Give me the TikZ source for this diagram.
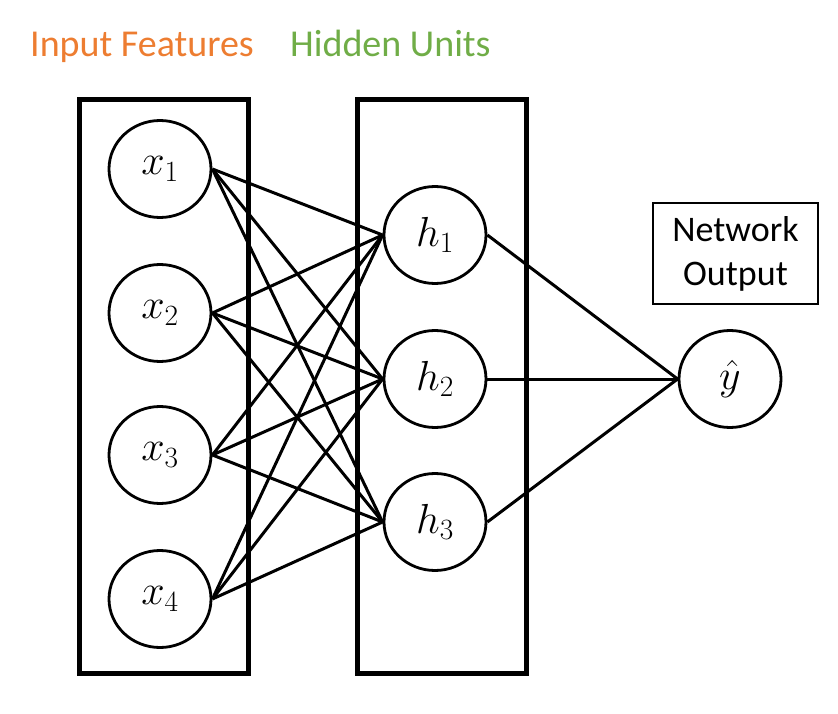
\documentclass[tikz,border=0pt]{standalone}
\usepackage{fix-cm}
\usepackage{fontspec}
\setsansfont{Carlito}
\usetikzlibrary{shapes.geometric}
\definecolor{featorange}{RGB}{237,125,49}
\definecolor{unitgreen}{RGB}{112,173,71}
\tikzset{
  unit/.style  = {ellipse, draw, line width=2.8pt, minimum width=102pt,
                  minimum height=97pt, inner sep=0pt, font=\fontsize{42}{46}\selectfont},
  layer/.style = {draw, line width=5pt, minimum width=169pt, minimum height=573pt},
  link/.style  = {line width=3pt},
  title/.style = {font=\sffamily\fontsize{38}{40}\selectfont, anchor=base west, inner sep=0pt},
}
\begin{document}
\begin{tikzpicture}[x=1pt, y=-1pt]
  \useasboundingbox (0,0) rectangle (838,714);
  \node [title, text=featorange] (infeat)   at (30,57)  {Input Features};
  \node [title, text=unitgreen]  (hidunits) at (290,57) {Hidden Units};
  % boxes round the layers
  \node [layer] (inbox)  at (164,386.5) {};
  \node [layer] (hidbox) at (441.5,386.5) {};
  % units
  \node [unit] (x1) at (160,169) {$x_1$};
  \node [unit] (x2) at (160,313) {$x_2$};
  \node [unit] (x3) at (160,455) {$x_3$};
  \node [unit] (x4) at (160,599) {$x_4$};
  \node [unit] (h1) at (435,235) {$h_1$};
  \node [unit] (h2) at (435,379) {$h_2$};
  \node [unit] (h3) at (435,522) {$h_3$};
  \node [unit] (yhat) at (730,379) {$\hat{y}$};
  \node [draw, line width=1.8pt, minimum width=165pt, minimum height=101pt,
         align=center, font=\sffamily\fontsize{36}{44}\selectfont] (netout)
        at (735.5,253.5) {Network\\Output};
  % weights
  \foreach \i in {1,...,4}
    \foreach \j in {1,2,3}
      \draw [link] (x\i.east) -- (h\j.west);
  \foreach \j in {1,2,3}
    \draw [link] (h\j.east) -- (yhat.west);
\end{tikzpicture}
\end{document}
